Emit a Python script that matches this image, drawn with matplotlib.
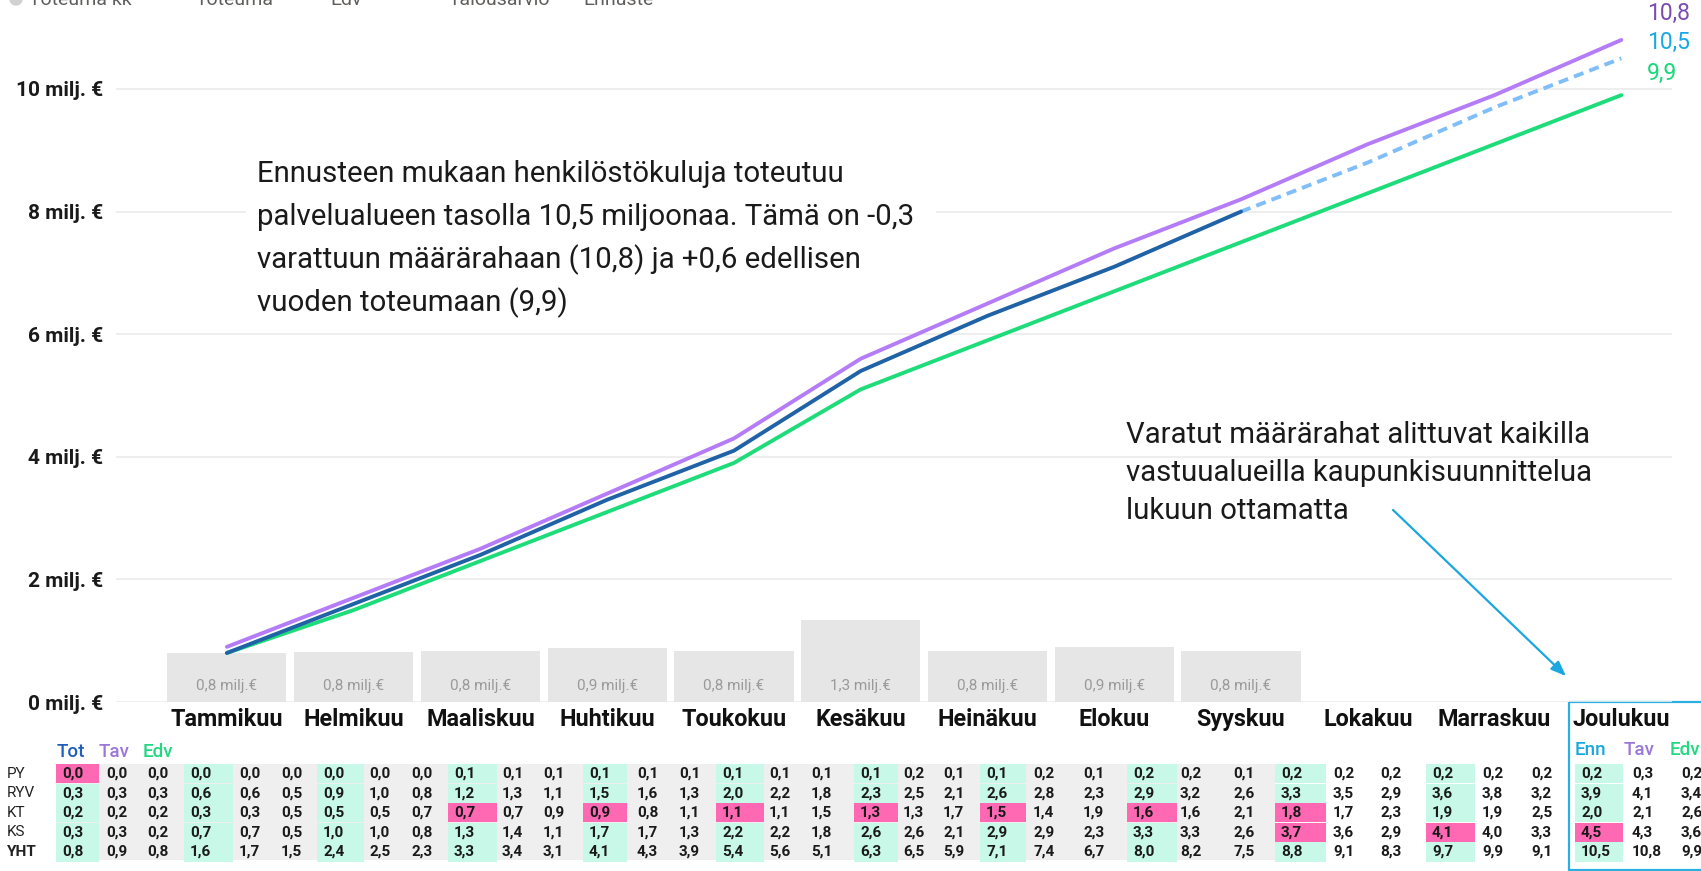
import matplotlib.pyplot as plt
from matplotlib.patches import Rectangle

plt.rcParams['font.family'] = ['Roboto', 'DejaVu Sans']

# --- data -------------------------------------------------------------
months = ['Tammikuu', 'Helmikuu', 'Maaliskuu', 'Huhtikuu', 'Toukokuu', 'Kesäkuu',
          'Heinäkuu', 'Elokuu', 'Syyskuu', 'Lokakuu', 'Marraskuu', 'Joulukuu']

toteuma_kk = [0.80, 0.82, 0.83, 0.88, 0.84, 1.33, 0.84, 0.89, 0.84]
toteuma = [0.8, 1.6, 2.4, 3.3, 4.1, 5.4, 6.3, 7.1, 8.0]
ennuste = [8.0, 8.8, 9.7, 10.5]          # syyskuu -> joulukuu
talousarvio = [0.9, 1.7, 2.5, 3.4, 4.3, 5.6, 6.5, 7.4, 8.2, 9.1, 9.9, 10.8]
edv = [0.8, 1.5, 2.3, 3.1, 3.9, 5.1, 5.9, 6.7, 7.5, 8.3, 9.1, 9.9]

rows = ['PY', 'RYV', 'KT', 'KS', 'YHT']
py_tot = [0.0, 0.0, 0.0, 0.1, 0.1, 0.1, 0.1, 0.1, 0.2, 0.2, 0.2, 0.2]
py_tav = [0.0, 0.0, 0.0, 0.1, 0.1, 0.1, 0.2, 0.2, 0.2, 0.2, 0.2, 0.3]
py_edv = [0.0, 0.0, 0.0, 0.1, 0.1, 0.1, 0.1, 0.1, 0.1, 0.2, 0.2, 0.2]
ryv_tot = [0.3, 0.6, 0.9, 1.2, 1.5, 2.0, 2.3, 2.6, 2.9, 3.3, 3.6, 3.9]
ryv_tav = [0.3, 0.6, 1.0, 1.3, 1.6, 2.2, 2.5, 2.8, 3.2, 3.5, 3.8, 4.1]
ryv_edv = [0.3, 0.5, 0.8, 1.1, 1.3, 1.8, 2.1, 2.3, 2.6, 2.9, 3.2, 3.4]
kt_tot = [0.2, 0.3, 0.5, 0.7, 0.9, 1.1, 1.3, 1.5, 1.6, 1.8, 1.9, 2.0]
kt_tav = [0.2, 0.3, 0.5, 0.7, 0.8, 1.1, 1.3, 1.4, 1.6, 1.7, 1.9, 2.1]
kt_edv = [0.2, 0.5, 0.7, 0.9, 1.1, 1.5, 1.7, 1.9, 2.1, 2.3, 2.5, 2.6]
ks_tot = [0.3, 0.7, 1.0, 1.3, 1.7, 2.2, 2.6, 2.9, 3.3, 3.7, 4.1, 4.5]
ks_tav = [0.3, 0.7, 1.0, 1.4, 1.7, 2.2, 2.6, 2.9, 3.3, 3.6, 4.0, 4.3]
ks_edv = [0.2, 0.5, 0.8, 1.1, 1.3, 1.8, 2.1, 2.3, 2.6, 2.9, 3.3, 3.6]
yht_tot = toteuma + ennuste[1:]

table = {
    'PY': (py_tot, py_tav, py_edv),
    'RYV': (ryv_tot, ryv_tav, ryv_edv),
    'KT': (kt_tot, kt_tav, kt_edv),
    'KS': (ks_tot, ks_tav, ks_edv),
    'YHT': (yht_tot, talousarvio, edv),
}
# toteuma over budget -> pink
ylitys = {('PY', 0), ('KT', 3), ('KT', 4), ('KT', 5), ('KT', 6), ('KT', 7),
          ('KT', 8), ('KT', 9), ('KS', 9), ('KS', 10), ('KS', 11)}

legend_items = ['Toteuma kk', 'Toteuma', 'Edv', 'Talousarvio', 'Ennuste']

annotation1 = ['Ennusteen mukaan henkilöstökuluja toteutuu',
               'palvelualueen tasolla 10,5 miljoonaa. Tämä on -0,3',
               'varattuun määrärahaan (10,8) ja +0,6 edellisen',
               'vuoden toteumaan (9,9)']
annotation2 = ['Varatut määrärahat alittuvat kaikilla',
               'vastuualueilla kaupunkisuunnittelua',
               'lukuun ottamatta']

C_TOT = '#1F62A5'
C_TAV = '#B47CF6'
C_EDV = '#1EDC7A'
C_ENN = '#80BEFA'


def fmt(v):
    return f'{v:.1f}'.replace('.', ',')


# --- figure -----------------------------------------------------------
W, H = 1701, 871
fig = plt.figure(figsize=(W / 100, H / 100), dpi=100)

bg = fig.add_axes([0, 0, 1, 1])
bg.set_xlim(0, W)
bg.set_ylim(H, 0)
bg.axis('off')

x0_px, x1_px = 116, 1672
y0_px, ytop, ppu = 702, 11.3, 61.3
top_px = y0_px - ytop * ppu
ax = fig.add_axes([x0_px / W, (H - y0_px) / H, (x1_px - x0_px) / W, (y0_px - top_px) / H])
ax.set_facecolor('none')
ax.set_xlim(-0.875, 11.4)
ax.set_ylim(0, ytop)

ax.bar(range(len(toteuma_kk)), toteuma_kk, width=0.94, color='#E6E6E6', zorder=1)
for i, v in enumerate(toteuma_kk):
    ax.annotate(fmt(v) + ' milj.€', xy=(i, H - 686), xycoords=('data', 'figure pixels'),
                ha='center', va='center', fontsize=11, color='#9A9A9A')

ax.plot(range(12), edv, color=C_EDV, lw=2.8, solid_capstyle='round', zorder=3)
ax.plot(range(8, 12), ennuste, color=C_ENN, lw=2.8, ls=(0, (2.6, 1.6)), zorder=3)
ax.plot(range(len(toteuma)), toteuma, color=C_TOT, lw=2.8, solid_capstyle='round', zorder=4)
ax.plot(range(12), talousarvio, color=C_TAV, lw=2.8, solid_capstyle='round', zorder=5)

ax.set_yticks([0, 2, 4, 6, 8, 10])
ax.set_yticklabels([f'{t} milj. €' for t in [0, 2, 4, 6, 8, 10]],
                   fontsize=15, fontweight='bold', color='#1A1A1A')
ax.set_xticks([])
ax.tick_params(axis='y', length=0, pad=9.5)
ax.grid(axis='y', color='#EBEBEB', lw=1.2)
ax.set_axisbelow(True)
for s in ax.spines.values():
    s.set_visible(False)

for i, m in enumerate(months):
    ax.annotate(m, xy=(i, H - 719), xycoords=('data', 'figure pixels'),
                ha='center', va='center', fontsize=16.8, fontweight='bold', color='#111111')

# overlay for text boxes and the arrow
fg = fig.add_axes([0, 0, 1, 1])
fg.set_facecolor('none')
fg.set_xlim(0, W)
fg.set_ylim(H, 0)
fg.axis('off')

# end labels
for val, col, yy in [(talousarvio[-1], '#7A4CB0', 13), (ennuste[-1], '#18A8E8', 42), (edv[-1], '#18D87A', 73)]:
    fg.text(1647, yy, fmt(val), color=col, fontsize=16.5, ha='left', va='center')

# legend (cut by the top edge)
leg_x = [29, 196, 330, 449, 583]
for lx, t in zip(leg_x, legend_items):
    fg.text(lx, 5, t, fontsize=14, color='#605E5C', ha='left', va='baseline')
fg.add_patch(plt.Circle((16, -1), 6, color='#D0D0D0', clip_on=False))

# annotations
fg.add_patch(Rectangle((246, 146), 690, 172, color='white', lw=0))
for k, line in enumerate(annotation1):
    fg.text(257, 174 + k * 43, line, fontsize=21.2, color='#1A1A1A', ha='left', va='center')
for k, line in enumerate(annotation2):
    fg.text(1126, 435 + k * 38, line, fontsize=21.2, color='#1A1A1A', ha='left', va='center')
fg.annotate('', xy=(1568, 678), xytext=(1391, 508),
            arrowprops=dict(arrowstyle='-|>,head_length=0.9,head_width=0.35', color='#1AA7E0', lw=1.6))

# --- table ------------------------------------------------------------
grp_x = [56, 184, 317, 448, 583, 716, 854, 980, 1127, 1275, 1426, 1575]
tav_dx = [50, 55, 52, 54, 54, 53, 49, 53, 53, 58, 56, 57]
edv_dx = [91, 97, 94, 95, 96, 95, 89, 103, 106, 105, 105, 106]
tot_w = [43, 49, 47, 49, 44, 48, 44, 46, 50, 51, 49, 48]
row_y = [773.5 + 19.6 * r for r in range(len(rows))]
cell_h = 19.2

bg.add_patch(Rectangle((56, 763.5), grp_x[9] - 56, 96, color='#EFEFEF', lw=0))

for r, name in enumerate(rows):
    y = row_y[r]
    bg.text(7, y, name, fontsize=11, fontweight='bold' if name == 'YHT' else 'normal',
            color='#222222', ha='left', va='center')
    t_list, tav_list, e_list = table[name]
    for g in range(12):
        col = '#FF69B4' if (name, g) in ylitys else '#C8F8E8'
        bg.add_patch(Rectangle((grp_x[g], y - cell_h / 2), tot_w[g], cell_h, color=col, lw=0))
        kw = dict(fontsize=11, fontweight='bold', color='#1A1A1A', ha='left', va='center')
        bg.text(grp_x[g] + 6, y, fmt(t_list[g]), **kw)
        bg.text(grp_x[g] + tav_dx[g], y, fmt(tav_list[g]), **kw)
        bg.text(grp_x[g] + edv_dx[g], y, fmt(e_list[g]), **kw)

for x, t, c in [(57, 'Tot', '#1F5FB8'), (99, 'Tav', '#9A78D8'), (143, 'Edv', '#22D880')]:
    bg.text(x, 752, t, fontsize=13.5, fontweight='medium', color=c, ha='left', va='center')
for x, t, c in [(1575, 'Enn', '#1AA7E0'), (1624, 'Tav', '#9A78D8'), (1670, 'Edv', '#22D880')]:
    bg.text(x, 750, t, fontsize=13.5, fontweight='medium', color=c, ha='left', va='center')

bg.add_patch(Rectangle((1569, 701.5), 140, 168, fill=False, edgecolor='#2BAEE0', lw=1.6, clip_on=False))

fig.savefig('out.png', dpi=100)
